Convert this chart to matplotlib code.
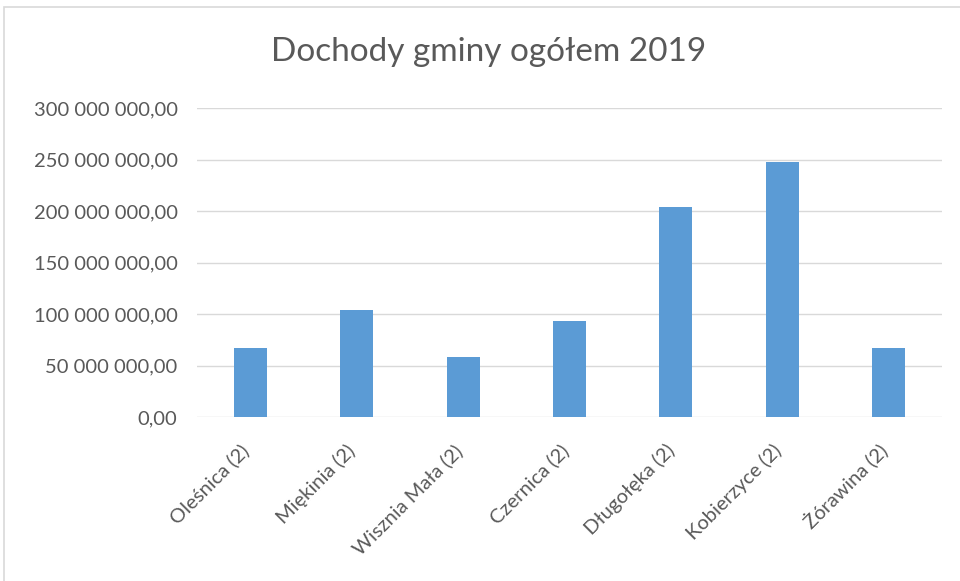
import numpy as np
import matplotlib.pyplot as plt
from matplotlib.ticker import FuncFormatter, MultipleLocator
from matplotlib.patches import Rectangle
from matplotlib.transforms import ScaledTranslation

gminy = ['Oleśnica (2)', 'Miękinia (2)', 'Wisznia Mała (2)', 'Czernica (2)',
         'Długołęka (2)', 'Kobierzyce (2)', 'Żórawina (2)']
dochody = [66.8e6, 104.0e6, 58.0e6, 92.8e6, 204.0e6, 247.6e6, 67.0e6]

plt.rcParams['font.family'] = ['Lato', 'DejaVu Sans']
szary = '#595959'

def fmt(v, pos):
    s = '{:,.2f}'.format(v)
    return s.replace(',', ' ').replace('.', ',')

fig = plt.figure(figsize=(9.6, 5.81), dpi=100)
# ramka wykresu jak w Excelu (widoczna tylko z gory i z lewej)
fig.patches.append(Rectangle((4 / 960, -0.05), 1.0, 1.05 - 7 / 581, transform=fig.transFigure,
                             fill=False, edgecolor='#d9d9d9', linewidth=1.2))

ax = fig.add_axes([197 / 960, 1 - 417 / 581, 745 / 960, 309 / 581])
ind = np.arange(len(gminy))
ax.bar(ind, dochody, 0.31, color='#5b9bd5', zorder=3)

ax.set_xlim(-0.5, len(gminy) - 0.5)
ax.set_ylim(0, 300e6)
ax.yaxis.set_major_locator(MultipleLocator(50e6))
ax.yaxis.set_major_formatter(FuncFormatter(fmt))
ax.grid(axis='y', color='#d9d9d9', linewidth=1, zorder=0)
for s in ax.spines.values():
    s.set_visible(False)
ax.tick_params(axis='both', length=0, colors=szary, labelsize=14.5)
ax.tick_params(axis='y', pad=14)
ax.tick_params(axis='x', pad=22)
ax.set_xticks(ind)
ax.set_xticklabels(gminy, rotation=45, ha='right', va='center', rotation_mode='anchor')
for lab in ax.get_xticklabels():
    lab.set_transform(lab.get_transform() + ScaledTranslation(-4 / 100, 0, fig.dpi_scale_trans))

fig.text(489 / 960, 1 - 52 / 581, 'Dochody gminy ogółem 2019', ha='center', va='center',
         fontsize=24, color=szary)

fig.savefig('out.png', dpi=100)
